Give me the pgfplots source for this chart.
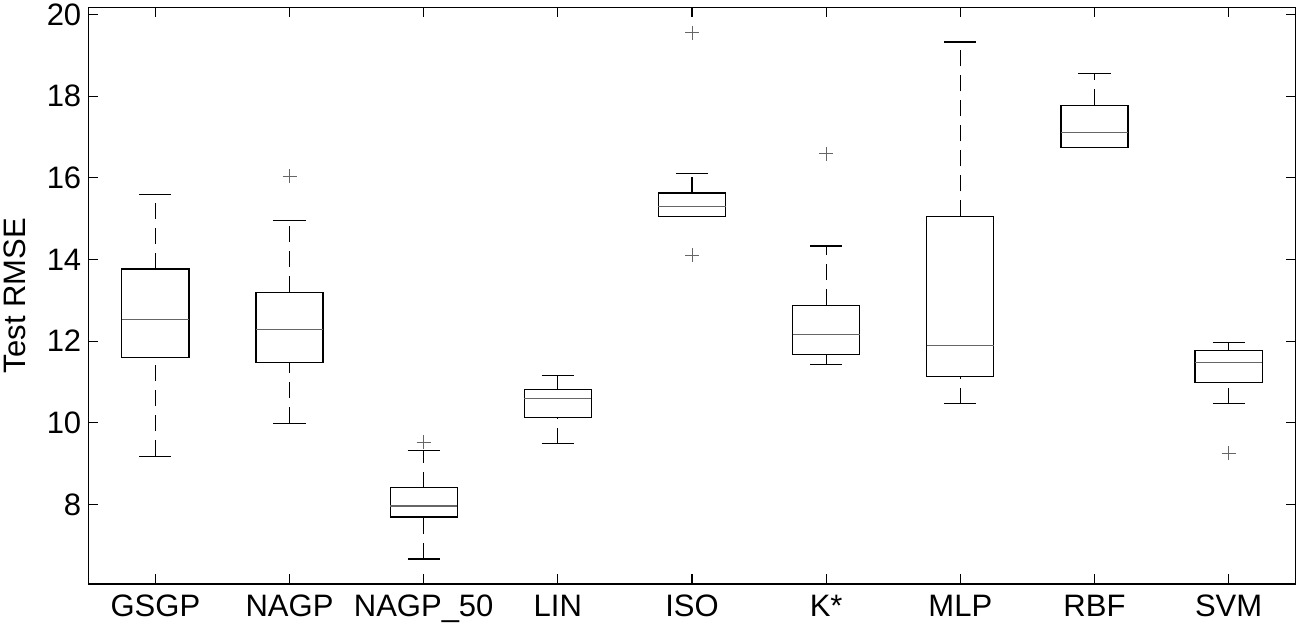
\documentclass[border=0pt]{standalone}
\usepackage{fontspec}
\setmainfont{Liberation Sans}
\usepackage{pgfplots}
\pgfplotsset{compat=1.18}
\usepgfplotslibrary{statistics}

\pgfplotsset{
  mbox/.style={
    black, line width=0.6pt, solid,
    mark=+, mark size=3.5pt,
    mark options={draw=black!60, line width=0.45pt, solid},
    boxplot/draw direction=y,
    boxplot/box extend=0.5,
    boxplot/whisker extend=0.24,
    boxplot/every median/.style={draw=black!60},
    boxplot/draw/lower whisker/.code={%
      \draw[dash pattern=on 8pt off 4.5pt]
        (boxplot cs:\pgfplotsboxplotvalue{lower whisker})
        -- (boxplot cs:\pgfplotsboxplotvalue{lower quartile});
      \draw (boxplot whisker cs:\pgfplotsboxplotvalue{lower whisker},0)
        -- (boxplot whisker cs:\pgfplotsboxplotvalue{lower whisker},1);
    },
    boxplot/draw/upper whisker/.code={%
      \draw[dash pattern=on 8pt off 4.5pt]
        (boxplot cs:\pgfplotsboxplotvalue{upper quartile})
        -- (boxplot cs:\pgfplotsboxplotvalue{upper whisker});
      \draw (boxplot whisker cs:\pgfplotsboxplotvalue{upper whisker},0)
        -- (boxplot whisker cs:\pgfplotsboxplotvalue{upper whisker},1);
    },
  },
}

\begin{document}
\begin{tikzpicture}
\begin{axis}[
  name=ax,
  scale only axis,
  width=603.7pt, height=288.35pt,
  xmin=0.5, xmax=9.5,
  ymin=6.05, ymax=20.18,
  xtick={1,...,9},
  xticklabels={GSGP,NAGP,NAGP\_50,LIN,ISO,K*,MLP,RBF,SVM},
  ytick={8,10,...,20},
  tick align=inside,
  major tick length=5pt,
  xtick pos=both, ytick pos=both,
  axis line style={line width=0.6pt},
  every tick/.style={black, line width=0.6pt},
  /pgf/number format/assume math mode=true,
  tick label style={font=\fontsize{15.5}{18}\selectfont},
  xticklabel style={yshift=-2pt},
  ylabel={Test RMSE},
  every axis y label/.style={at={([xshift=-36.6pt]rel axis cs:0,0.5)},
    anchor=center, rotate=90, font=\fontsize{15.5}{18}\selectfont},
]
% GSGP
\addplot[mbox, boxplot prepared={draw position=1,
  lower whisker=9.18, lower quartile=11.59, median=12.54,
  upper quartile=13.77, upper whisker=15.60}] coordinates {};
% NAGP
\addplot[mbox, boxplot prepared={draw position=2,
  lower whisker=9.99, lower quartile=11.48, median=12.28,
  upper quartile=13.20, upper whisker=14.95}]
  table[row sep=\\, y index=0] {data\\ 16.04\\};
% NAGP_50
\addplot[mbox, boxplot prepared={draw position=3,
  lower whisker=6.66, lower quartile=7.69, median=7.96,
  upper quartile=8.41, upper whisker=9.33}]
  table[row sep=\\, y index=0] {data\\ 9.53\\};
% LIN
\addplot[mbox, boxplot prepared={draw position=4,
  lower whisker=9.49, lower quartile=10.13, median=10.59,
  upper quartile=10.82, upper whisker=11.16}] coordinates {};
% ISO
\addplot[mbox, boxplot prepared={draw position=5,
  lower whisker=15.06, lower quartile=15.06, median=15.29,
  upper quartile=15.63, upper whisker=16.10}]
  table[row sep=\\, y index=0] {data\\ 19.56\\ 14.11\\};
% K*
\addplot[mbox, boxplot prepared={draw position=6,
  lower whisker=11.43, lower quartile=11.67, median=12.16,
  upper quartile=12.88, upper whisker=14.33}]
  table[row sep=\\, y index=0] {data\\ 16.59\\};
% MLP
\addplot[mbox, boxplot prepared={draw position=7,
  lower whisker=10.47, lower quartile=11.13, median=11.90,
  upper quartile=15.06, upper whisker=19.33}] coordinates {};
% RBF
\addplot[mbox, boxplot prepared={draw position=8,
  lower whisker=16.74, lower quartile=16.74, median=17.12,
  upper quartile=17.78, upper whisker=18.55}] coordinates {};
% SVM
\addplot[mbox, boxplot prepared={draw position=9,
  lower whisker=10.47, lower quartile=10.98, median=11.47,
  upper quartile=11.77, upper whisker=11.96}]
  table[row sep=\\, y index=0] {data\\ 9.26\\};
\end{axis}
\pgfresetboundingbox
\path[use as bounding box] ([xshift=-44.15pt,yshift=-23pt]ax.south west)
  rectangle ([xshift=1.65pt,yshift=3.65pt]ax.north east);
\end{tikzpicture}
\end{document}
